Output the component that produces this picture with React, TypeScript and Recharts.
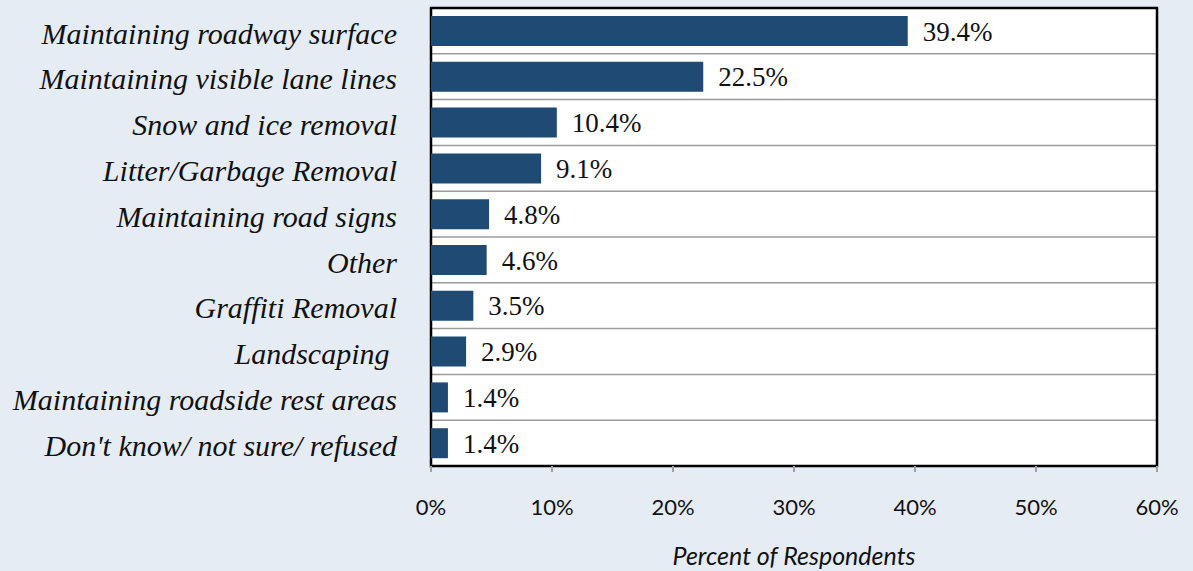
import {
  Bar,
  BarChart,
  CartesianGrid,
  LabelList,
  ReferenceArea,
  XAxis,
  YAxis,
} from "recharts";

const categories = [
  "Maintaining roadway surface",
  "Maintaining visible lane lines",
  "Snow and ice removal",
  "Litter/Garbage Removal",
  "Maintaining road signs",
  "Other",
  "Graffiti Removal",
  "Landscaping\u00a0",
  "Maintaining roadside rest areas",
  "Don't know/ not sure/ refused",
];
const percents = [39.4, 22.5, 10.4, 9.1, 4.8, 4.6, 3.5, 2.9, 1.4, 1.4];
const xTicks = [0, 10, 20, 30, 40, 50, 60];

const data = categories.map((name, i) => ({ name, value: percents[i] }));

const SERIF = "'Liberation Serif', 'Times New Roman', serif";
const SANS = "Lato, 'Open Sans', sans-serif";

export default function App() {
  return (
    <div
      style={{
        position: "absolute",
        left: 0,
        top: 0,
        width: 1193,
        height: 571,
        background: "#e5ecf4",
      }}
    >
      <BarChart
        width={1193}
        height={571}
        data={data}
        layout="vertical"
        margin={{ top: 8, right: 36, bottom: 0, left: 0 }}
        barSize={30}
      >
        <CartesianGrid
          fill="#ffffff"
          vertical={false}
          stroke="#9a9a9a"
          strokeWidth={1.5}
          horizontalCoordinatesGenerator={({ offset }: any) =>
            categories
              .slice(1)
              .map((_, i) => offset.top + ((i + 1) * offset.height) / categories.length)
          }
        />
        <XAxis
          type="number"
          domain={[0, 60]}
          ticks={xTicks}
          tickFormatter={(v: number) => `${v}%`}
          axisLine={false}
          tickLine={{ stroke: "#a0a0a0", strokeWidth: 2 }}
          tickSize={6}
          tickMargin={27}
          height={105}
          tick={{ fill: "#111", fontSize: 22, fontFamily: SANS }}
          label={{
            value: "Percent of Respondents",
            position: "insideBottom",
            offset: 6,
            fill: "#111",
            fontSize: 25,
            fontStyle: "italic",
            fontFamily: SANS,
          }}
        />
        <YAxis
          type="category"
          dataKey="name"
          width={431}
          axisLine={false}
          tickLine={false}
          tickSize={0}
          tickMargin={34}
          interval={0}
          tick={{
            fill: "#111",
            fontSize: 30,
            fontStyle: "italic",
            fontFamily: SERIF,
            dy: 2,
          }}
        />
        <Bar dataKey="value" fill="#1f4a73" isAnimationActive={false}>
          <LabelList
            dataKey="value"
            position="right"
            offset={15}
            formatter={(v: any) => `${Number(v).toFixed(1)}%`}
            style={{ fill: "#111", fontSize: 27, fontFamily: SERIF }}
          />
        </Bar>
        <ReferenceArea
          x1={0}
          x2={60}
          fill="none"
          stroke="#000"
          strokeWidth={2.5}
          ifOverflow="visible"
        />
      </BarChart>
    </div>
  );
}
